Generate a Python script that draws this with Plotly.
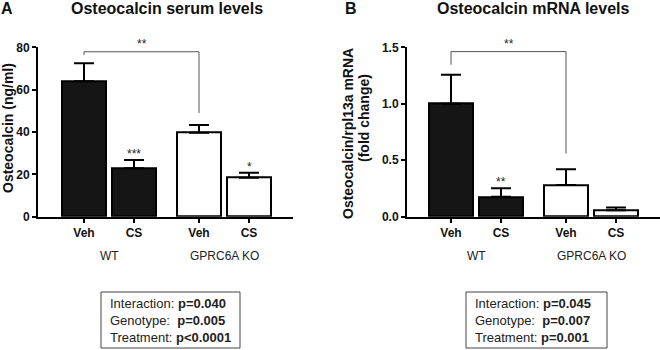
import plotly.graph_objects as go

# ---------------- data ----------------
conditions = ["Veh", "CS", "Veh", "CS"]
genotypes = ["WT", "GPRC6A KO"]
serum_mean = [64.0, 22.9, 39.7, 18.4]
serum_sem = [8.5, 3.9, 3.6, 2.4]
mrna_mean = [1.0, 0.176, 0.28, 0.058]
mrna_sem = [0.256, 0.075, 0.14, 0.024]
serum_stars = ["", "***", "", "*"]
mrna_stars = ["", "**", "", ""]
serum_ticks = [0, 20, 40, 60, 80]
serum_ticktext = ["0", "20", "40", "60", "80"]
mrna_ticks = [0.0, 0.5, 1.0, 1.5]
mrna_ticktext = ["0.0", "0.5", "1.0", "1.5"]
serum_bracket = [77.9, 76.4, 49.0]   # top, left foot, right foot
mrna_bracket = [1.462, 1.345, 0.56]
serum_stats = [("Interaction:", "p=0.040"), ("Genotype:\u00a0", "p=0.005"), ("Treatment:", "p<0.0001")]
mrna_stats = [("Interaction:", "p=0.045"), ("Genotype:\u00a0", "p=0.007"), ("Treatment:", "p=0.001")]

# ---------------- layout helpers ----------------
W, H = 660, 350
FONT = "Liberation Sans, Arial, Helvetica, sans-serif"
pos = [1, 2, 3.3, 4.3]
fills = ["#151515", "#151515", "white", "white"]


def px(x):
    return x / W


def py(y):
    return 1 - y / H


def bold(lst):
    return [f"<b>{t}</b>" for t in lst]


fig = go.Figure()

panels = [
    dict(mean=serum_mean, sem=serum_sem, stars=serum_stars, xa="x", ya="y",
         bracket=serum_bracket),
    dict(mean=mrna_mean, sem=mrna_sem, stars=mrna_stars, xa="x2", ya="y2",
         bracket=mrna_bracket),
]

annotations = []
shapes = []
for p in panels:
    fig.add_trace(go.Bar(
        x=pos, y=p["mean"], width=0.87,
        marker=dict(color=fills, line=dict(color="black", width=2)),
        error_y=dict(type="data", array=p["sem"], arrayminus=[0] * 4, symmetric=False,
                     color="black", thickness=2, width=10),
        xaxis=p["xa"], yaxis=p["ya"], showlegend=False, hoverinfo="skip",
    ))
    for xi, m, s, st in zip(pos, p["mean"], p["sem"], p["stars"]):
        if st:
            annotations.append(dict(x=xi, y=m + s, xref=p["xa"], yref=p["ya"], text=st,
                                    showarrow=False, yanchor="bottom", yshift=-3,
                                    font=dict(family=FONT, size=12, color="#222")))
    top, lf, rf = p["bracket"]
    for (x0, y0, x1, y1) in [(pos[0], lf, pos[0], top), (pos[0], top, pos[2], top),
                             (pos[2], top, pos[2], rf)]:
        shapes.append(dict(type="line", xref=p["xa"], yref=p["ya"], x0=x0, y0=y0, x1=x1, y1=y1,
                           line=dict(color="#555", width=1)))
    annotations.append(dict(x=(pos[0] + pos[2]) / 2, y=top, xref=p["xa"], yref=p["ya"],
                            text="**", showarrow=False, yanchor="bottom", yshift=-1,
                            font=dict(family=FONT, size=12, color="#222")))
    for gi, g in enumerate(genotypes):
        annotations.append(dict(x=(pos[2 * gi] + pos[2 * gi + 1]) / 2, y=py(256), xref=p["xa"],
                                yref="paper", text=g, showarrow=False, yanchor="middle",
                                font=dict(family=FONT, size=12, color="#222")))

axis_common = dict(showline=True, linewidth=2, linecolor="black", ticks="outside",
                   ticklen=4, tickwidth=2, tickcolor="black", showgrid=False, zeroline=False,
                   automargin=False, tickfont=dict(family=FONT, size=12, color="#111"))
y_dom = [py(216.7), py(47.3)]

fig.update_layout(
    template="none",
    width=W, height=H, margin=dict(l=0, r=0, t=0, b=0, pad=0, autoexpand=False),
    paper_bgcolor="white", plot_bgcolor="white", bargap=0,
    xaxis=dict(domain=[px(38), px(293)], range=[0.08, 5.18], tickvals=pos,
               ticktext=bold(conditions), anchor="y", **axis_common),
    yaxis=dict(domain=y_dom, range=[0, 80], tickvals=serum_ticks, ticktext=bold(serum_ticktext),
               anchor="x", **axis_common),
    xaxis2=dict(domain=[px(407), 1.0], range=[0.12, 5.18], tickvals=pos,
                ticktext=bold(conditions), anchor="y2", **axis_common),
    yaxis2=dict(domain=y_dom, range=[0, 1.5], tickvals=mrna_ticks, ticktext=bold(mrna_ticktext),
                anchor="x2", **axis_common),
)

for txt, x, y, size in [("A", 7, 8, 16), ("Osteocalcin serum levels", 167, 9, 16),
                        ("B", 351, 8, 16), ("Osteocalcin mRNA levels", 533, 9, 16)]:
    annotations.append(dict(x=px(x), y=py(y), xref="paper", yref="paper", text=f"<b>{txt}</b>",
                            showarrow=False, xanchor="center", yanchor="middle",
                            font=dict(family=FONT, size=size, color="#111")))

for txt, x, y in [("Osteocalcin (ng/ml)", 8, 128), ("Osteocalcin/rpl13a mRNA", 348, 133),
                  ("(fold change)", 364, 118)]:
    annotations.append(dict(x=px(x), y=py(y), xref="paper", yref="paper", text=f"<b>{txt}</b>",
                            textangle=-90, showarrow=False, xanchor="center", yanchor="middle",
                            font=dict(family=FONT, size=14, color="#111")))

for stats, x0, x1 in [(serum_stats, 101, 240), (mrna_stats, 466, 607)]:
    shapes.append(dict(type="rect", xref="paper", yref="paper", x0=px(x0), x1=px(x1),
                       y0=py(348), y1=py(292), line=dict(color="#444", width=1)))
    text = "<br>".join(f"{a} <b>{b}</b>" for a, b in stats)
    annotations.append(dict(x=px(x0 + 7), y=py(320), xref="paper", yref="paper", text=text,
                            showarrow=False, xanchor="left", yanchor="middle", align="left",
                            font=dict(family=FONT, size=13, color="#222")))

fig.update_layout(annotations=annotations, shapes=shapes)
fig.write_html(
    "out.html",
    config={"displayModeBar": False},
    post_script="document.body.style.margin='0px';document.body.style.padding='0px';"
                "document.body.style.overflow='hidden';",
)
